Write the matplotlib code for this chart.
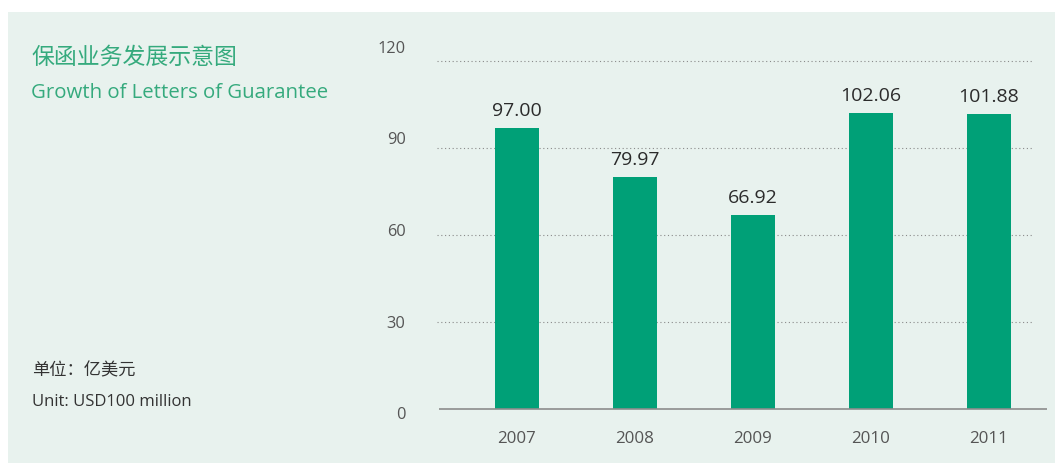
import matplotlib
matplotlib.use("Agg")
import matplotlib.pyplot as plt
from matplotlib.patches import Rectangle

# ---- data ----
years = ["2007", "2008", "2009", "2010", "2011"]
values = [97.00, 79.97, 66.92, 102.06, 101.88]
yticks = [0, 30, 60, 90, 120]

title_cn = "保函业务发展示意图"
title_en = "Growth of Letters of Guarantee"
unit_cn = "单位：亿美元"
unit_en = "Unit: USD100 million"

# ---- style ----
W, H = 1055, 464
bg = "#E8F2EE"
bar_c = "#00A077"
green_txt = "#35AA7D"
latin = ["Open Sans", "Noto Sans CJK SC", "DejaVu Sans"]
cjk = ["Noto Sans CJK SC", "DejaVu Sans"]

fig = plt.figure(figsize=(W / 100, H / 100), dpi=100)
fig.patch.set_facecolor("white")
fig.patches.append(Rectangle((8 / W, 0), 1 - 8 / W, 1 - 13 / H,
                             transform=fig.transFigure, facecolor=bg,
                             edgecolor="none", zorder=-10))

# axes: 0 at y=410 px, 2.9 px per unit
ax_left, ax_right = 439, 1047
zero_px = 410
ymin, ymax = -3, 128
ppu = 2.9
ax = fig.add_axes([ax_left / W, (H - zero_px - (-ymin) * ppu) / H,
                   (ax_right - ax_left) / W, (ymax - ymin) * ppu / H])
ax.set_facecolor("none")
x = list(range(len(years)))
ax.set_xlim(-0.661, 4.492)
ax.set_ylim(ymin, ymax)

ax.bar(x, values, width=44 / 118, color=bar_c, zorder=3)
for xi, v in zip(x, values):
    ax.annotate(f"{v:.2f}", (xi, v), xytext=(0, 6.5), textcoords="offset points",
                ha="center", va="bottom", fontsize=14, color="#2b2b2b",
                family=latin)

for t in yticks[1:]:
    ax.plot([-0.68, 4.373], [t, t], color="#8a8a8a", lw=0.8,
            linestyle=(0, (1, 2.4)), zorder=1, clip_on=False)
ax.axhline(0, color="#8c8c8c", lw=1.2, zorder=4)

for s in ["top", "right", "left", "bottom"]:
    ax.spines[s].set_visible(False)

ax.set_xticks(x)
ax.set_xticklabels(years, family=latin, fontsize=12.2, color="#555555")
ax.tick_params(axis="x", length=0, pad=8.5)
ax.set_yticks([])

# y tick labels on their own (slightly different) scale as in the original
def fwd(u):
    return (3 + ppu * u) / 3.05

def inv(v):
    return (3.05 * v - 3) / ppu

sec = ax.secondary_yaxis("left", functions=(fwd, inv))
sec.set_yticks(yticks)
sec.set_yticklabels([str(t) for t in yticks], family=latin, fontsize=11.8,
                    color="#555555")
sec.tick_params(length=0, pad=24)
sec.spines["left"].set_visible(False)

# texts
fig.text(31 / W, 1 - 57 / H, title_cn, family=cjk, fontsize=16.5,
         color=green_txt, ha="left", va="center")
fig.text(31 / W, 1 - 98 / H, title_en, family=latin, fontsize=14.7,
         color=green_txt, ha="left", va="baseline")
fig.text(32 / W, 1 - 370 / H, unit_cn, family=cjk, fontsize=12.4,
         color="#333333", ha="left", va="center")
fig.text(32 / W, 1 - 406 / H, unit_en, family=latin, fontsize=12,
         color="#333333", ha="left", va="baseline")

fig.savefig("out.png", dpi=100, facecolor=fig.get_facecolor())
